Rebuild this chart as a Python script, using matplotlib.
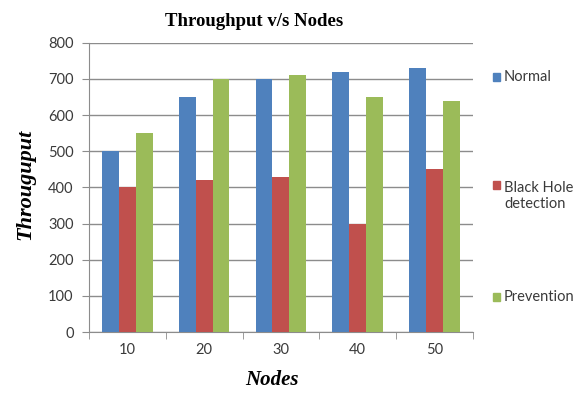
import numpy as np
import matplotlib.pyplot as plt
from matplotlib.patches import Rectangle

# dane
nodes = ['10', '20', '30', '40', '50']
series_names = ['Normal', 'Black Hole\ndetection', 'Prevention']
normal = [500, 650, 700, 720, 730]
black_hole = [400, 420, 430, 300, 450]
prevention = [550, 700, 710, 650, 640]
colors = ['#4F81BD', '#C0504D', '#9BBB59']

fig = plt.figure(figsize=(5.81, 3.93), dpi=100)
ax = fig.add_axes([0.153, 0.155, 0.661, 0.736])

x = np.arange(len(nodes))
bar_width = 0.22
for idx, vals in enumerate([normal, black_hole, prevention]):
    ax.bar(x + (idx - 1) * bar_width, vals, bar_width, color=colors[idx], zorder=3)

ax.set_xlim(-0.5, len(nodes) - 0.5)
ax.set_ylim(0, 800)
ax.set_yticks(range(0, 801, 100))
ax.yaxis.grid(True, color='#8c8c8c', linewidth=1.0, zorder=0)
ax.set_xticks(x)
ax.set_xticklabels(nodes)
ax.set_xticks(np.arange(-0.5, len(nodes)), minor=True)
ax.tick_params(axis='x', which='major', length=0, pad=8)
ax.tick_params(axis='x', which='minor', length=5, color='#8c8c8c')
ax.tick_params(axis='y', length=5, color='#8c8c8c', pad=6)
for lab in ax.get_xticklabels() + ax.get_yticklabels():
    lab.set_fontfamily('Lato')
    lab.set_fontsize(10.5)
    lab.set_color('#3a3a3a')

for side in ['top', 'right']:
    ax.spines[side].set_visible(False)
for side in ['left', 'bottom']:
    ax.spines[side].set_color('#8c8c8c')

fig.text(254 / 581, 1 - 22 / 393, 'Throughput v/s Nodes', ha='center', va='center',
         family='Liberation Serif', weight='bold', fontsize=13.5)
fig.text(25 / 581, 1 - 184 / 393, 'Througuput', ha='center', va='center', rotation=90,
         family='Liberation Serif', weight='bold', style='italic', fontsize=16)
fig.text(272 / 581, 1 - 380 / 393, 'Nodes', ha='center', va='center',
         family='Liberation Serif', weight='bold', style='italic', fontsize=15)

# legenda rozłożona w pionie jak w oryginale (y znacznika, y środka tekstu)
legend_pos = [(77, 77), (185, 196), (297, 297)]
for name, col, (my, ty) in zip(series_names, colors, legend_pos):
    fig.patches.append(Rectangle((493 / 581, 1 - (my + 4) / 393), 7 / 581, 8 / 393,
                                 transform=fig.transFigure, color=col))
    fig.text(504 / 581, 1 - ty / 393, name, ha='left', va='center',
             family='Lato', fontsize=10.5, color='#3a3a3a', linespacing=1.25)

fig.savefig('out.png', dpi=100)
